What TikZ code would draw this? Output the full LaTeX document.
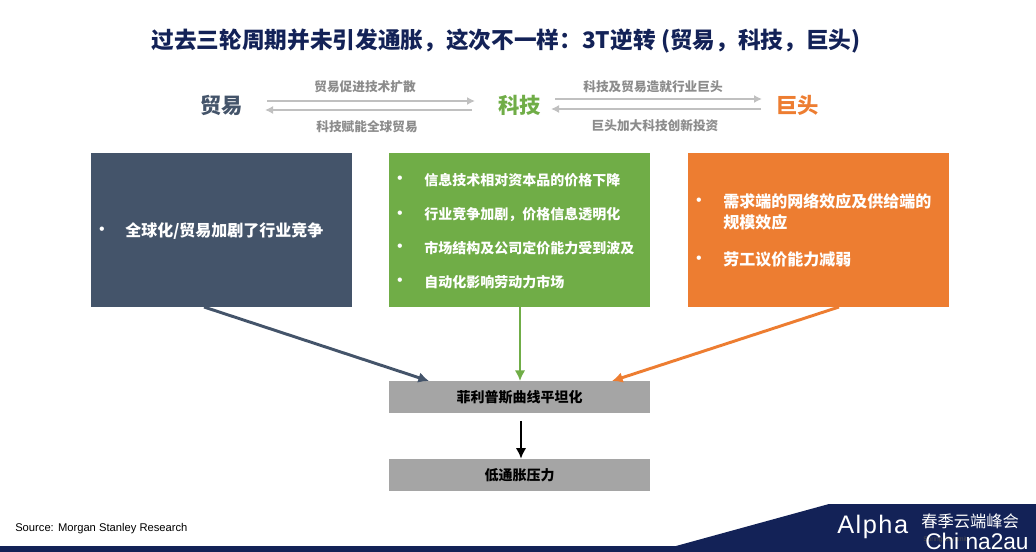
\documentclass[tikz,border=0pt]{standalone}
\usepackage{fontspec}
\usetikzlibrary{arrows.meta}
\setmainfont{Noto Sans CJK SC}
\newfontfamily\latinfont{Liberation Sans}
\definecolor{navyband}{HTML}{132257}
\definecolor{slatebox}{HTML}{44546A}
\definecolor{greenbox}{HTML}{70AD47}
\definecolor{orangebox}{HTML}{ED7D31}
\definecolor{greybox}{HTML}{A5A5A5}
\begin{document}
\begin{tikzpicture}[
    x=0.75pt, y=-0.75pt,
    box/.style={rectangle, minimum width=195.75pt, minimum height=115.5pt, inner sep=0pt},
    flatbox/.style={rectangle, fill=greybox, minimum width=195.75pt, minimum height=24pt, inner sep=0pt, font=\fontsize{10.5}{12}\selectfont\bfseries},
    head/.style={inner sep=0pt, font=\fontsize{16}{18}\selectfont\bfseries},
    small/.style={inner sep=0pt, text=greybox!85!black, font=\fontsize{9.5}{11}\selectfont\bfseries},
    item/.style={anchor=west, inner sep=0pt, align=left, text=white, font=\fontsize{10.5}{15}\selectfont\bfseries},
    bigitem/.style={item, font=\fontsize{12}{16}\selectfont\bfseries},
    dot/.style={inner sep=0pt, text=white, font=\latinfont\fontsize{12}{14}\selectfont},
    link/.style={-{Latex[length=6pt,width=6pt]}, draw=greybox!70!white, line width=1.1pt},
    arrow/.style={-{Latex[length=8pt,width=8pt]}, line width=2.2pt}
]
\useasboundingbox (0,0) rectangle (1036,552);

% Title
\node[inner sep=0pt, text=navyband, font=\fontsize{17}{19}\selectfont\bfseries] (title) at (506,41) {过去三轮周期并未引发通胀，这次不一样：3T逆转 (贸易，科技，巨头)};

% Headings
\node[head, text=slatebox] (trade) at (221.5,105) {贸易};
\node[head, text=greenbox] (tech) at (519.5,105) {科技};
\node[head, text=orangebox] (giant) at (797.5,105) {巨头};

% Link labels
\node[small] (tradeup) at (365,87) {贸易促进技术扩散};
\node[small] (tradedown) at (367,127) {科技赋能全球贸易};
\node[small] (techup) at (653,87) {科技及贸易造就行业巨头};
\node[small] (techdown) at (655,126) {巨头加大科技创新投资};

% Link ends
\coordinate (a1) at (267,101);
\coordinate (a2) at (475,101);
\coordinate (b1) at (472,110);
\coordinate (b2) at (265,110);
\coordinate (c1) at (555,99);
\coordinate (c2) at (762,99);
\coordinate (d1) at (761,109);
\coordinate (d2) at (551,109);

% Boxes
\node[box, fill=slatebox] (tradebox) at (221.5,230) {};
\node[box, fill=greenbox] (techbox) at (519.5,230) {};
\node[box, fill=orangebox] (giantbox) at (818,230) {};
\node[flatbox] (curve) at (519.5,397) {菲利普斯曲线平坦化};
\node[flatbox] (low) at (519.5,475) {低通胀压力};

% Box texts
\node[dot] (t0) at (102,231) {•};
\node[bigitem] (t1) at (125,231) {全球化/贸易加剧了行业竞争};
\node[dot] (g0) at (400,180) {•};
\node[item] (g1) at (424,180) {信息技术相对资本品的价格下降};
\node[dot] (g2) at (400,215) {•};
\node[item] (g3) at (424,215) {行业竞争加剧，价格信息透明化};
\node[dot] (g4) at (400,248) {•};
\node[item] (g5) at (424,248) {市场结构及公司定价能力受到波及};
\node[dot] (g6) at (400,282) {•};
\node[item] (g7) at (424,282) {自动化影响劳动力市场};
\node[dot] (o0) at (699,202) {•};
\node[bigitem] (o1) at (723,212) {需求端的网络效应及供给端的\\规模效应};
\node[dot] (o2) at (699,260) {•};
\node[bigitem] (o3) at (723,260) {劳工议价能力减弱};

% Arrow ends
\coordinate (s1) at (204,307);
\coordinate (e1) at (429,381);
\coordinate (s2) at (520,307);
\coordinate (e2) at (520,381);
\coordinate (s3) at (839,307);
\coordinate (e3) at (612,381);
\coordinate (s4) at (521,421);

% Arrows
\draw[link] (a1) -- (a2);
\draw[link] (b1) -- (b2);
\draw[link] (c1) -- (c2);
\draw[link] (d1) -- (d2);
\draw[arrow, draw=slatebox] (s1) -- (e1);
\draw[arrow, draw=greenbox] (s2) -- (e2);
\draw[arrow, draw=orangebox] (s3) -- (e3);
\draw[arrow, draw=black] (s4) -- (low.north -| s4);

% Footer
\fill[navyband] (0,546) -- (676,546) -- (829,504) -- (1036,504) -- (1036,552) -- (0,552) -- cycle;
\node[anchor=west, inner sep=0pt, font=\latinfont\fontsize{8.4}{10}\selectfont] (source) at (15,529) {Source: Morgan Stanley Research};
\node[anchor=west, inner sep=0pt, text=white, font=\latinfont\fontsize{19}{22}\selectfont\addfontfeature{LetterSpace=6}] (alpha) at (837,527) {Alpha};
\node[anchor=west, inner sep=0pt, text=white, font=\fontsize{12.2}{14}\selectfont] (summit) at (921,521) {春季云端峰会};
\node[anchor=west, inner sep=0pt, text=black!70, font=\latinfont\fontsize{5}{6}\selectfont] (summiten) at (923,540) {Spring Summit};
\node[anchor=west, inner sep=0pt, text=white, font=\latinfont\fontsize{17}{19}\selectfont] (mark) at (925,541) {Chi na2au};
\end{tikzpicture}
\end{document}
